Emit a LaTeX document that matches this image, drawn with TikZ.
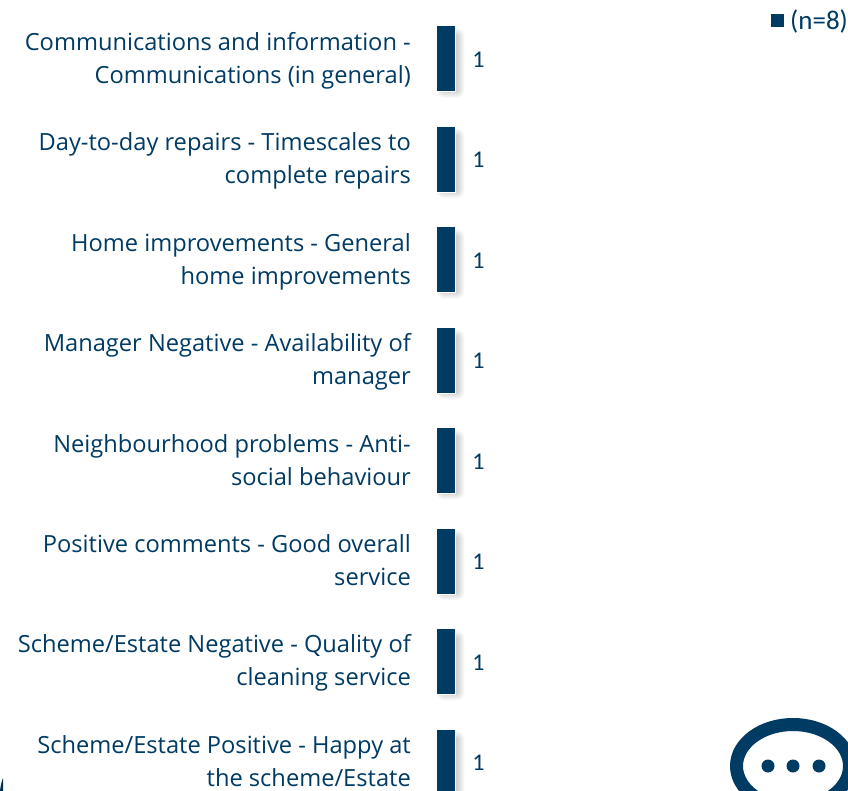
\documentclass[tikz,border=0pt]{standalone}
\usepackage{fontspec}
\setmainfont{Open Sans}
\newfontfamily\numfont{Carlito}
\definecolor{navy}{HTML}{003B64}
\tikzset{
  x=1pt,y=-1pt,
  lab/.style={align=right,anchor=east,text=navy,font=\fontsize{23.65}{33}\selectfont,inner sep=0pt},
  val/.style={anchor=center,text=navy,font=\numfont\fontsize{24}{28}\selectfont,inner sep=0pt},
  barbox/.style={fill=navy,draw=white,line width=1pt}
}
\newcommand{\rowbar}[4]{%
  \foreach \g in {7,6,5,4,3,2,1,0}{
    \fill[black,opacity=.025,rounded corners=\g+1] (443.5-\g,#1+9-\g) rectangle (457.5+\g,#1+65+\g);
  }
  \node[barbox,inner sep=0pt,anchor=north west,minimum width=19.5pt,minimum height=66pt] (bar#2) at (435.8,#1-0.5) {};
  \node[lab] (lab#2) at (411,#1+33.8) {\rule{0pt}{20pt}#3\\#4\rule[-6pt]{0pt}{6pt}};
  \node[val] (val#2) at (478.5,#1+33.8) {1};
}
\begin{document}
\begin{tikzpicture}
\useasboundingbox (0,0) rectangle (848,791);
\fill[white] (0,0) rectangle (848,791);
\begin{scope}
\clip (0,0) rectangle (848,791);
\rowbar{26}{a}{Communications and information -}{Communications (in general)}
\rowbar{126.4}{b}{Day-to-day repairs - Timescales to}{complete repairs}
\rowbar{226.9}{c}{Home improvements - General}{home improvements}
\rowbar{327.3}{d}{Manager Negative - Availability of}{manager}
\rowbar{427.7}{e}{Neighbourhood problems - Anti-}{social behaviour}
\rowbar{528.2}{f}{Positive comments - Good overall}{service}
\rowbar{628.6}{g}{Scheme/Estate Negative - Quality of}{cleaning service}
\rowbar{729}{h}{Scheme/Estate Positive - Happy at}{the scheme/Estate}
\draw[navy,line width=13pt] (793,766) ellipse [x radius=56.5,y radius=41.5];
\foreach \x in {768,793,819}{
  \fill[navy] (\x,766) circle (6.5);
}
\fill[navy!80!black] (0,791) .. controls (0.5,786) and (1.5,782) .. (3,778) -- (3,791) -- cycle;
\end{scope}
\fill[navy] (771,14) rectangle (784,27);
\node[anchor=west,text=navy,font=\numfont\fontsize{27}{30}\selectfont,inner sep=0pt] (legend) at (790,21.5) {(n=8)};
\end{tikzpicture}
\end{document}
